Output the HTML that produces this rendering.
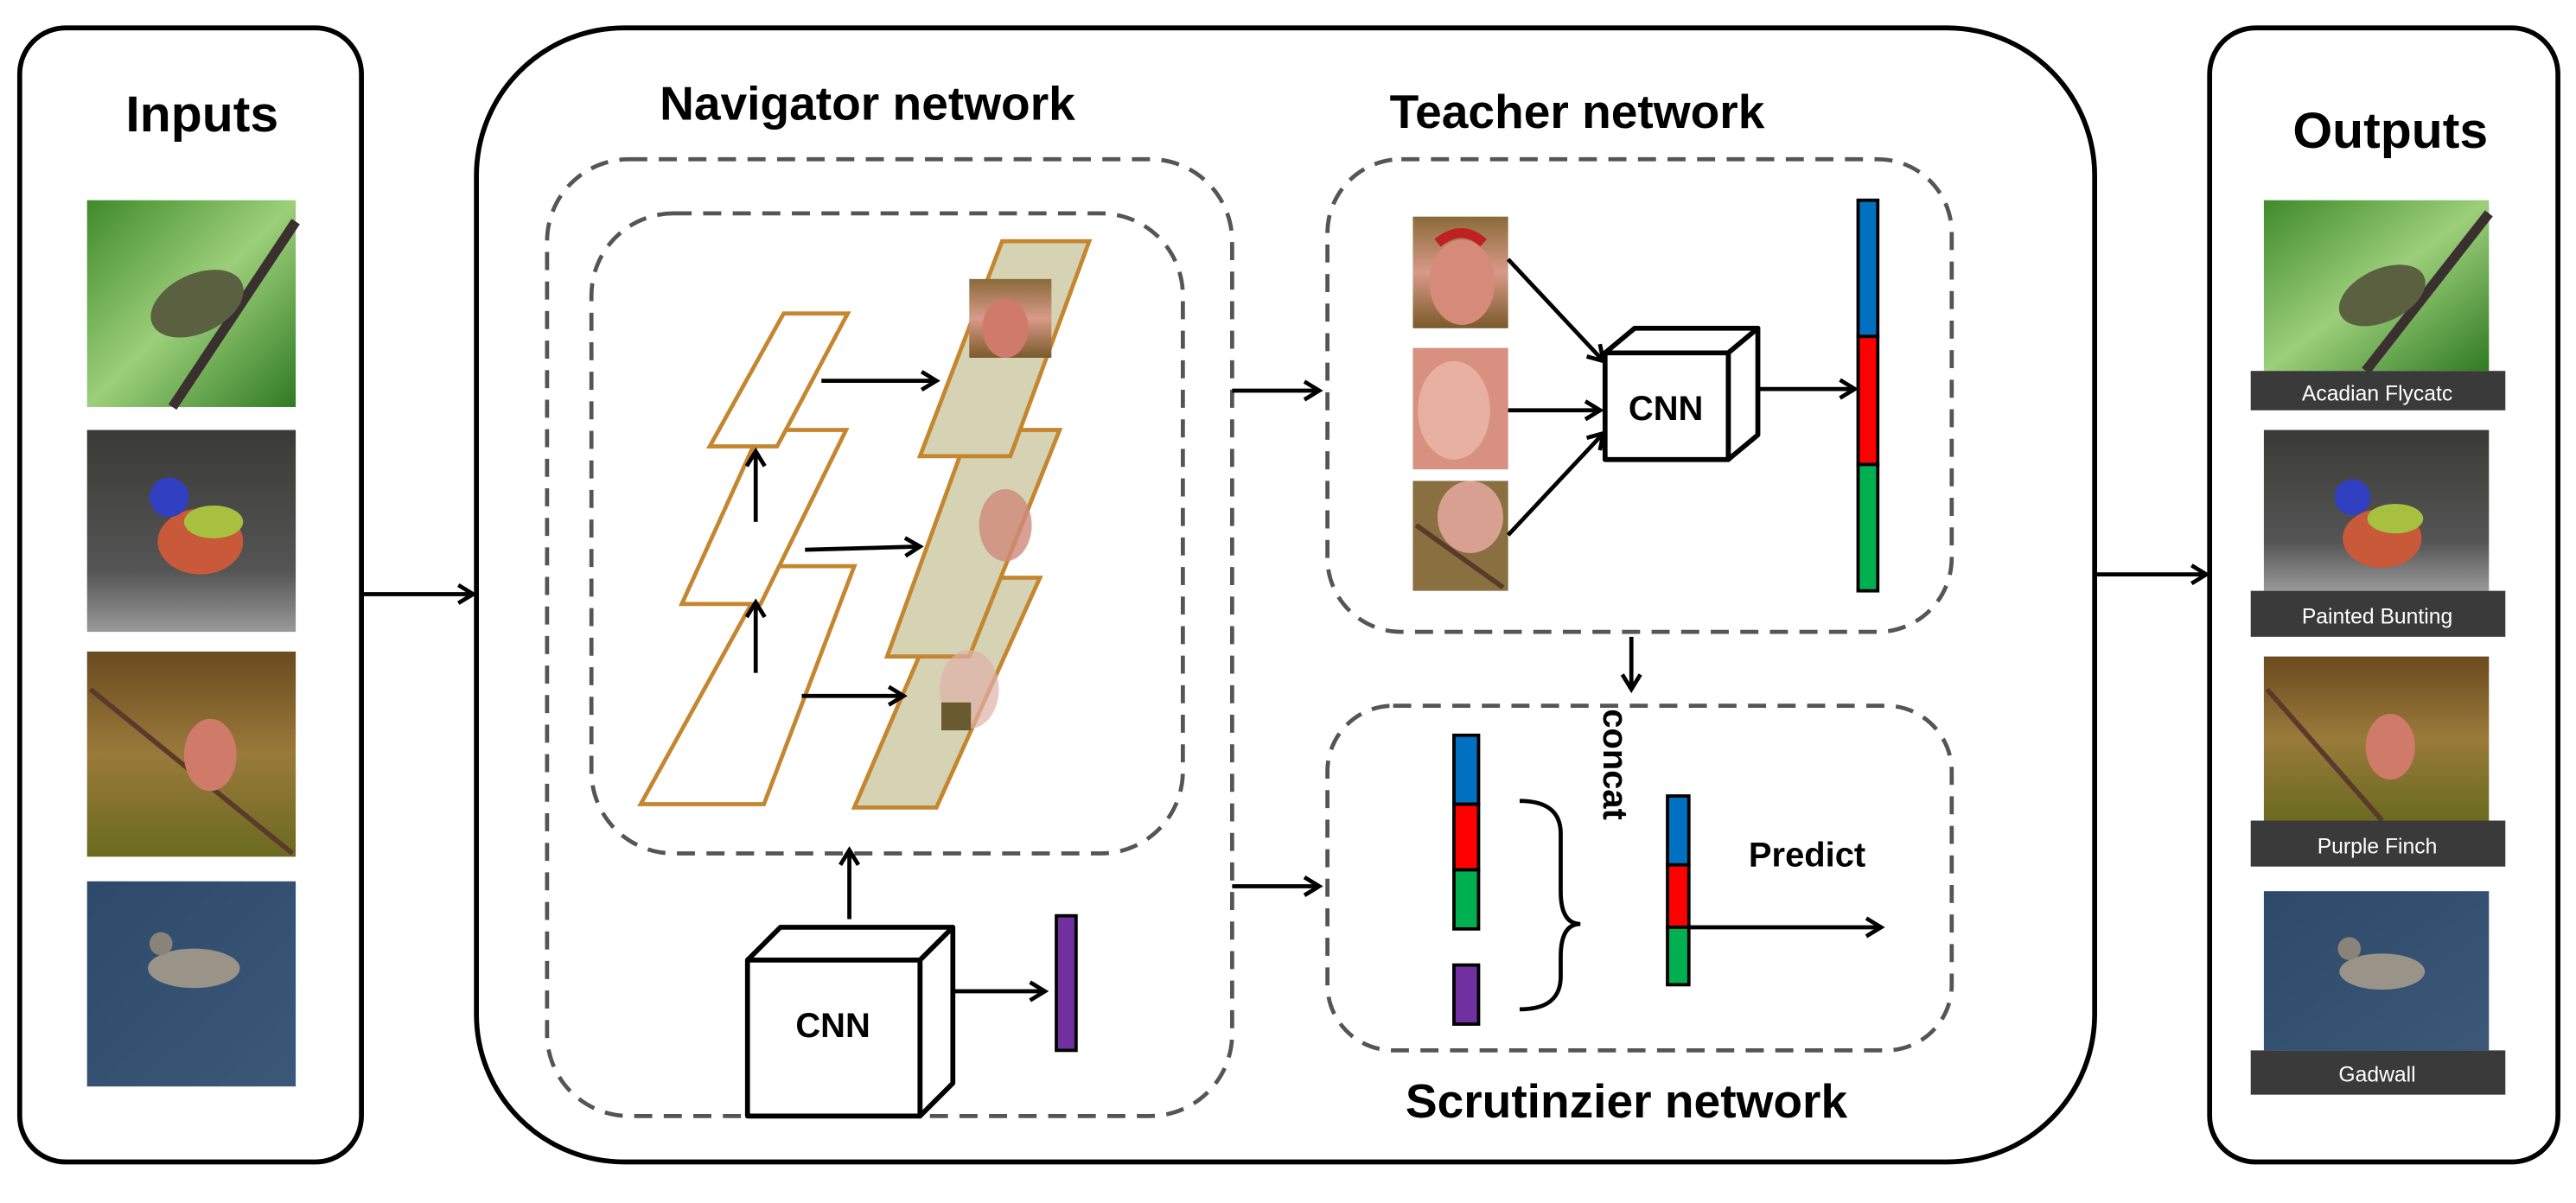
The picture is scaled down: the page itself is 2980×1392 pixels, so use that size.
<!DOCTYPE html>
<html><head><meta charset="utf-8"><style>
html,body{margin:0;padding:0;background:#fff;}
svg{display:block;}
text{font-family:"Liberation Sans",Arial,sans-serif;font-weight:bold;}
</style></head><body>
<svg width="2980" height="1392" viewBox="0 0 1568 733" preserveAspectRatio="none" xmlns="http://www.w3.org/2000/svg">
<defs>
<marker id="ah" markerWidth="14" markerHeight="14" refX="11" refY="7" orient="auto" markerUnits="userSpaceOnUse">
<path d="M2,1.5 L11,7 L2,12.5" fill="none" stroke="#000" stroke-width="2.5"/>
</marker>
<linearGradient id="g1" x1="0" y1="0" x2="1" y2="1"><stop offset="0" stop-color="#3f8a2a"/><stop offset="0.5" stop-color="#9ccf7a"/><stop offset="1" stop-color="#2f7a22"/></linearGradient>
<linearGradient id="g2" x1="0" y1="0" x2="0" y2="1"><stop offset="0" stop-color="#3a3a38"/><stop offset="0.7" stop-color="#555"/><stop offset="1" stop-color="#999"/></linearGradient>
<linearGradient id="g3" x1="0" y1="0" x2="0" y2="1"><stop offset="0" stop-color="#6b4a20"/><stop offset="0.5" stop-color="#9a7a3a"/><stop offset="1" stop-color="#6a6a20"/></linearGradient>
<linearGradient id="g4" x1="0" y1="0" x2="1" y2="1"><stop offset="0" stop-color="#2e4a6a"/><stop offset="1" stop-color="#3c5878"/></linearGradient>
<linearGradient id="gc" x1="0" y1="0" x2="0" y2="1"><stop offset="0" stop-color="#8a6a3a"/><stop offset="0.5" stop-color="#d89a88"/><stop offset="1" stop-color="#7a5a2a"/></linearGradient>
</defs>

<!-- Inputs -->
<rect x="12" y="17" width="208" height="691" rx="28" fill="#fff" stroke="#000" stroke-width="3"/>
<text x="123" y="80" font-size="31" text-anchor="middle">Inputs</text>
<rect x="53" y="122" width="127" height="126" fill="url(#g1)"/>
<line x1="105" y1="248" x2="180" y2="135" stroke="#3a3030" stroke-width="6"/>
<ellipse cx="120" cy="185" rx="30" ry="18" fill="#5a6040" transform="rotate(-25 120 185)"/>
<rect x="53" y="262" width="127" height="123" fill="url(#g2)"/>
<ellipse cx="122" cy="330" rx="26" ry="20" fill="#c85a3a"/><circle cx="103" cy="303" r="12" fill="#3040c0"/><ellipse cx="130" cy="318" rx="18" ry="10" fill="#a8c040"/>
<rect x="53" y="397" width="127" height="125" fill="url(#g3)"/>
<line x1="55" y1="420" x2="178" y2="520" stroke="#5a3a2a" stroke-width="3"/>
<ellipse cx="128" cy="460" rx="16" ry="22" fill="#d07a6a"/>
<rect x="53" y="537" width="127" height="125" fill="url(#g4)"/>
<ellipse cx="118" cy="590" rx="28" ry="12" fill="#9a9488"/><circle cx="98" cy="575" r="7" fill="#8a8478"/>
<line x1="220" y1="362" x2="288" y2="362" stroke="#000" stroke-width="2.5" marker-end="url(#ah)"/>

<!-- Main box -->
<rect x="290" y="17" width="985" height="691" rx="90" fill="#fff" stroke="#000" stroke-width="3"/>
<text x="528" y="73" font-size="29" text-anchor="middle">Navigator network</text>
<rect x="333" y="97" width="417" height="583" rx="50" fill="none" stroke="#555" stroke-width="2.5" stroke-dasharray="11,7"/>
<rect x="360" y="130" width="360" height="390" rx="50" fill="none" stroke="#555" stroke-width="2.5" stroke-dasharray="11,7"/>

<g fill="#fff" stroke="#c4862e" stroke-width="2.5">
<polygon points="470,345 520,345 465,490 390,490"/>
<polygon points="463,262 515,262 463,368 415,368"/>
<polygon points="477,191 516,191 473,272 432,272"/>
</g>
<g fill="#d6d2b4" stroke="#c4862e" stroke-width="2.5">
<polygon points="580,352 633,352 570,492 520,492"/>
<polygon points="590,262 645,262 590,400 540,400"/>
<polygon points="610,147 663,147 615,278 560,278"/>
</g>
<rect x="590" y="170" width="50" height="48" fill="url(#gc)"/>
<ellipse cx="612" cy="200" rx="14" ry="18" fill="#d07a6a"/>
<ellipse cx="612" cy="320" rx="16" ry="22" fill="#d08a7a" opacity="0.8"/>
<ellipse cx="590" cy="420" rx="18" ry="24" fill="#e0b0a8" opacity="0.7"/>
<rect x="573" y="428" width="18" height="17" fill="#6a5a30"/>

<g stroke="#000" stroke-width="2.5" fill="none">
<line x1="500" y1="232" x2="570" y2="232" marker-end="url(#ah)"/>
<line x1="490" y1="335" x2="560" y2="333" marker-end="url(#ah)"/>
<line x1="488" y1="424" x2="550" y2="424" marker-end="url(#ah)"/>
<line x1="460" y1="318" x2="460" y2="275" marker-end="url(#ah)"/>
<line x1="460" y1="410" x2="460" y2="367" marker-end="url(#ah)"/>
<line x1="517" y1="560" x2="517" y2="518" marker-end="url(#ah)"/>
<line x1="560" y1="604" x2="636" y2="604" marker-end="url(#ah)"/>
</g>
<g stroke="#000" stroke-width="3" fill="#fff" stroke-linejoin="round">
<polygon points="455,585 475,565 580,565 560,585"/>
<polygon points="560,585 580,565 580,660 560,680"/>
<rect x="455" y="585" width="105" height="95"/>
</g>
<text x="507" y="632" font-size="21" text-anchor="middle">CNN</text>
<rect x="643" y="558" width="12" height="82" fill="#7030a0" stroke="#000" stroke-width="2"/>

<line x1="750" y1="238" x2="803" y2="238" stroke="#000" stroke-width="2.5" marker-end="url(#ah)"/>
<line x1="750" y1="540" x2="803" y2="540" stroke="#000" stroke-width="2.5" marker-end="url(#ah)"/>

<!-- Teacher -->
<text x="960" y="78" font-size="29" text-anchor="middle">Teacher network</text>
<rect x="808" y="97" width="380" height="288" rx="45" fill="none" stroke="#555" stroke-width="2.5" stroke-dasharray="11,7"/>
<rect x="860" y="132" width="58" height="68" fill="url(#gc)"/><ellipse cx="890" cy="172" rx="20" ry="26" fill="#d58a7a"/><path d="M875,148 q15,-12 28,0" stroke="#c02020" stroke-width="6" fill="none"/>
<rect x="860" y="212" width="58" height="74" fill="#d89080"/><ellipse cx="885" cy="250" rx="22" ry="30" fill="#e8b0a0"/>
<rect x="860" y="293" width="58" height="67" fill="#8a7040"/><ellipse cx="895" cy="315" rx="20" ry="22" fill="#d8a090"/><line x1="862" y1="320" x2="915" y2="358" stroke="#5a3a2a" stroke-width="3"/>
<g stroke="#000" stroke-width="2.5" fill="none">
<line x1="918" y1="158" x2="976" y2="220" marker-end="url(#ah)"/>
<line x1="918" y1="250" x2="974" y2="250" marker-end="url(#ah)"/>
<line x1="918" y1="326" x2="976" y2="264" marker-end="url(#ah)"/>
<line x1="1070" y1="237" x2="1129" y2="237" marker-end="url(#ah)"/>
<line x1="993" y1="388" x2="993" y2="420" marker-end="url(#ah)"/>
</g>
<g stroke="#000" stroke-width="3" fill="#fff" stroke-linejoin="round">
<polygon points="977,215 995,200 1070,200 1052,215"/>
<polygon points="1052,215 1070,200 1070,265 1052,280"/>
<rect x="977" y="215" width="75" height="65"/>
</g>
<text x="1014" y="256" font-size="21" text-anchor="middle">CNN</text>
<g stroke="#000" stroke-width="2">
<rect x="1131" y="122" width="12" height="83" fill="#0070c0"/>
<rect x="1131" y="205" width="12" height="78" fill="#ff0000"/>
<rect x="1131" y="283" width="12" height="77" fill="#00b050"/>
</g>

<!-- Scrutinizer -->
<rect x="808" y="430" width="380" height="210" rx="40" fill="none" stroke="#555" stroke-width="2.5" stroke-dasharray="11,7"/>
<text x="990" y="681" font-size="29" text-anchor="middle">Scrutinzier network</text>
<g stroke="#000" stroke-width="2">
<rect x="885" y="448" width="15" height="42" fill="#0070c0"/>
<rect x="885" y="490" width="15" height="40" fill="#ff0000"/>
<rect x="885" y="530" width="15" height="36" fill="#00b050"/>
<rect x="885" y="588" width="15" height="36" fill="#7030a0"/>
<rect x="1015" y="485" width="13" height="42" fill="#0070c0"/>
<rect x="1015" y="527" width="13" height="38" fill="#ff0000"/>
<rect x="1015" y="565" width="13" height="35" fill="#00b050"/>
</g>
<path d="M925,488 q25,0 25,20 v35 q0,20 12,20 q-12,0 -12,20 v12 q0,20 -25,20" fill="none" stroke="#000" stroke-width="2.5"/>
<text x="0" y="0" font-size="21" transform="translate(976,432) rotate(90)">concat</text>
<line x1="1028" y1="565" x2="1145" y2="565" stroke="#000" stroke-width="2.5" marker-end="url(#ah)"/>
<text x="1100" y="528" font-size="21" text-anchor="middle">Predict</text>

<line x1="1275" y1="350" x2="1343" y2="350" stroke="#000" stroke-width="2.5" marker-end="url(#ah)"/>

<!-- Outputs -->
<rect x="1345" y="17" width="212" height="691" rx="28" fill="#fff" stroke="#000" stroke-width="3"/>
<text x="1455" y="90" font-size="31" text-anchor="middle">Outputs</text>
<rect x="1378" y="122" width="137" height="104" fill="url(#g1)"/>
<line x1="1440" y1="226" x2="1515" y2="130" stroke="#3a3030" stroke-width="6"/>
<ellipse cx="1450" cy="180" rx="28" ry="16" fill="#5a6040" transform="rotate(-25 1450 180)"/>
<rect x="1370" y="226" width="155" height="24" fill="#3a3a3a"/>
<text x="1447" y="244" font-size="13" fill="#fff" text-anchor="middle" style="font-weight:normal">Acadian Flycatc</text>
<rect x="1378" y="262" width="137" height="98" fill="url(#g2)"/>
<ellipse cx="1450" cy="328" rx="24" ry="18" fill="#c85a3a"/><circle cx="1432" cy="303" r="11" fill="#3040c0"/><ellipse cx="1458" cy="316" rx="17" ry="9" fill="#a8c040"/>
<rect x="1370" y="360" width="155" height="28" fill="#3a3a3a"/>
<text x="1447" y="380" font-size="13" fill="#fff" text-anchor="middle" style="font-weight:normal">Painted Bunting</text>
<rect x="1378" y="400" width="137" height="100" fill="url(#g3)"/>
<line x1="1380" y1="420" x2="1450" y2="500" stroke="#5a3a2a" stroke-width="3"/>
<ellipse cx="1455" cy="455" rx="15" ry="20" fill="#d07a6a"/>
<rect x="1370" y="500" width="155" height="28" fill="#3a3a3a"/>
<text x="1447" y="520" font-size="13" fill="#fff" text-anchor="middle" style="font-weight:normal">Purple Finch</text>
<rect x="1378" y="543" width="137" height="97" fill="url(#g4)"/>
<ellipse cx="1450" cy="592" rx="26" ry="11" fill="#9a9488"/><circle cx="1430" cy="578" r="7" fill="#8a8478"/>
<rect x="1370" y="640" width="155" height="27" fill="#3a3a3a"/>
<text x="1447" y="659" font-size="13" fill="#fff" text-anchor="middle" style="font-weight:normal">Gadwall</text>
</svg>
</body></html>
